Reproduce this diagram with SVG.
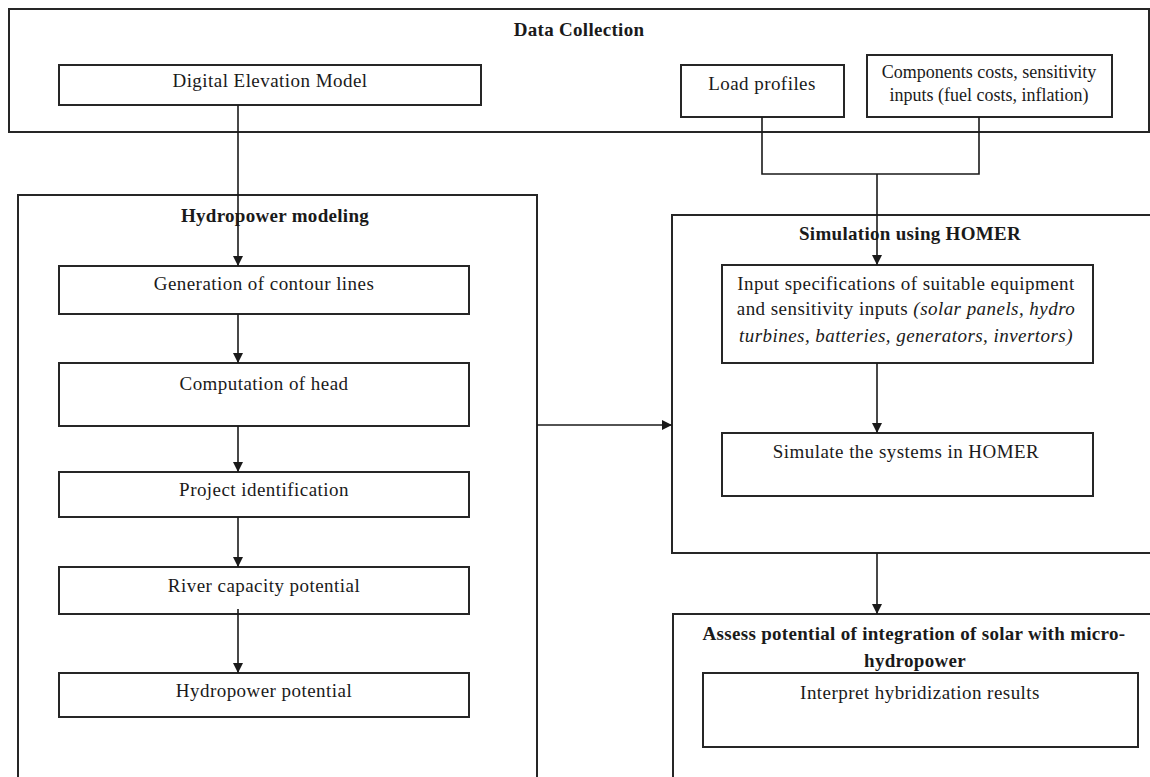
<svg xmlns="http://www.w3.org/2000/svg" width="1150" height="777" viewBox="0 0 1150 777">
<style>
.box{fill:none;stroke:#262626;stroke-width:2}
.t{font-family:"Liberation Serif","Times New Roman",serif;font-size:19px;letter-spacing:0.45px;fill:#1a1a1a;text-anchor:middle}
.s{font-size:18px;letter-spacing:0}
.b{font-weight:bold;letter-spacing:0.3px}
.i{font-style:italic}
.c{fill:none;stroke:#1a1a1a;stroke-width:1.6}
</style>
<defs>
<marker id="ah" viewBox="0 0 10 10" refX="10" refY="5" markerWidth="10" markerHeight="10" markerUnits="userSpaceOnUse" orient="auto">
<path d="M0,0 L10,5 L0,10 z" fill="#1a1a1a"/>
</marker>
</defs>
<rect width="1150" height="777" fill="#fff"/>
<g id="data-collection">
<rect class="box" x="9" y="9" width="1140" height="123"/>
<text class="t b" x="579" y="36">Data Collection</text>
</g>
<g id="dem">
<rect class="box" x="59" y="65" width="422" height="40"/>
<text class="t" x="270" y="87">Digital Elevation Model</text>
</g>
<g id="load-profiles">
<rect class="box" x="681" y="65" width="163" height="52"/>
<text class="t" x="762" y="90">Load profiles</text>
</g>
<g id="components-costs">
<rect class="box" x="867" y="55" width="245" height="62"/>
<text class="t s" x="989" y="78">Components costs, sensitivity</text>
<text class="t s" x="989" y="101">inputs (fuel costs, inflation)</text>
</g>
<g id="hydropower-modeling">
<rect class="box" x="18" y="195" width="519" height="600"/>
<text class="t b" x="275" y="222">Hydropower modeling</text>
</g>
<g id="contour">
<rect class="box" x="59" y="266" width="410" height="48"/>
<text class="t" x="264" y="290">Generation of contour lines</text>
</g>
<g id="head">
<rect class="box" x="59" y="363" width="410" height="63"/>
<text class="t" x="264" y="390">Computation of head</text>
</g>
<g id="project">
<rect class="box" x="59" y="472" width="410" height="45"/>
<text class="t" x="264" y="496">Project identification</text>
</g>
<g id="river">
<rect class="box" x="59" y="567" width="410" height="47"/>
<text class="t" x="264" y="592">River capacity potential</text>
</g>
<g id="hydro-potential">
<rect class="box" x="59" y="673" width="410" height="44"/>
<text class="t" x="264" y="697">Hydropower potential</text>
</g>
<g id="simulation">
<rect class="box" x="672" y="215" width="490" height="338"/>
<text class="t b" x="910" y="240">Simulation using HOMER</text>
</g>
<g id="input-specs">
<rect class="box" x="722" y="265" width="371" height="98"/>
<text class="t" x="906" y="290">Input specifications of suitable equipment</text>
<text class="t" x="906" y="315">and sensitivity inputs <tspan class="i">(solar panels, hydro</tspan></text>
<text class="t i" x="906" y="342">turbines, batteries, generators, invertors)</text>
</g>
<g id="simulate">
<rect class="box" x="722" y="433" width="371" height="63"/>
<text class="t" x="906" y="458">Simulate the systems in HOMER</text>
</g>
<g id="assess">
<rect class="box" x="673" y="614" width="490" height="180"/>
<text class="t b" x="914" y="640">Assess potential of integration of solar with micro-</text>
<text class="t b" x="915" y="667">hydropower</text>
</g>
<g id="interpret">
<rect class="box" x="703" y="673" width="435" height="74"/>
<text class="t" x="920" y="699">Interpret hybridization results</text>
</g>
<g id="connectors">
<line class="c" x1="238" y1="105" x2="238" y2="266" marker-end="url(#ah)"/>
<polyline class="c" points="762,117 762,174 979,174 979,117"/>
<line class="c" x1="877" y1="174" x2="877" y2="265" marker-end="url(#ah)"/>
<line class="c" x1="238" y1="314" x2="238" y2="363" marker-end="url(#ah)"/>
<line class="c" x1="238" y1="426" x2="238" y2="472" marker-end="url(#ah)"/>
<line class="c" x1="238" y1="517" x2="238" y2="567" marker-end="url(#ah)"/>
<line class="c" x1="238" y1="609" x2="238" y2="673" marker-end="url(#ah)"/>
<line class="c" x1="537" y1="425" x2="672" y2="425" marker-end="url(#ah)"/>
<line class="c" x1="877" y1="363" x2="877" y2="433" marker-end="url(#ah)"/>
<line class="c" x1="877" y1="553" x2="877" y2="614" marker-end="url(#ah)"/>
</g>
</svg>
